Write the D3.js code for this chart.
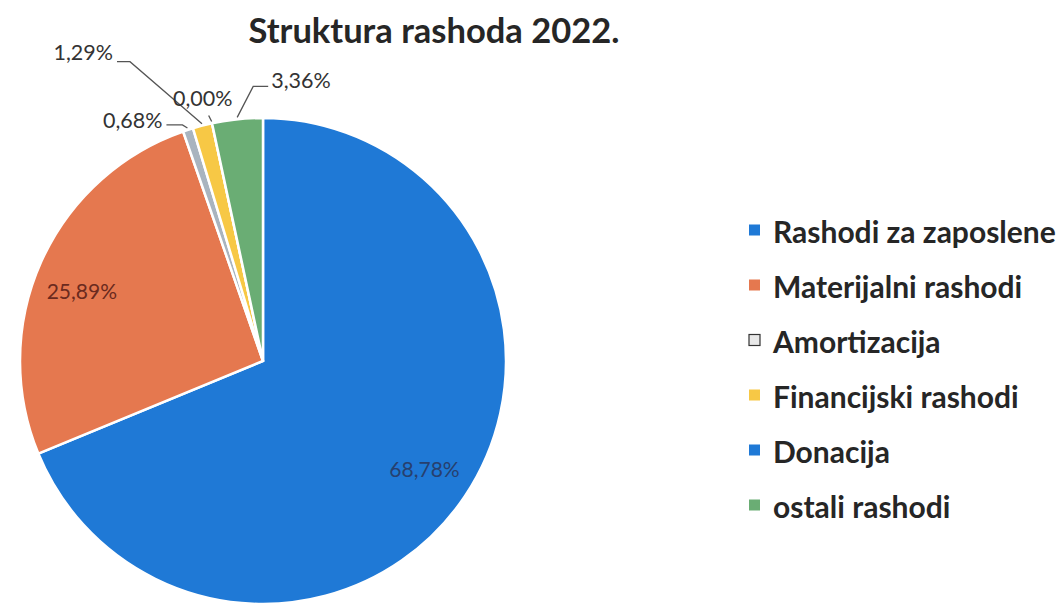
<!DOCTYPE html>
<html>
<head>
<meta charset="utf-8">
<script src="https://cdn.jsdelivr.net/npm/d3@7"></script>
<style>
  body { margin: 0; background: #fff; }
  svg { display: block; font-family: Lato, "Open Sans", sans-serif; }
</style>
</head>
<body>
<svg id="chart" width="1062" height="606"></svg>
<script>
// chart data
const categories = ["Rashodi za zaposlene", "Materijalni rashodi", "Amortizacija", "Financijski rashodi", "Donacija", "ostali rashodi"];
const shares = [68.78, 25.89, 0.68, 1.29, 0.00, 3.36];
const sliceColors = ["#1f79d6", "#e5784f", "#a9b4bf", "#f7c845", "#1f79d6", "#6aad74"];

const width = 1062;
const height = 606;
const cx = 263, cy = 361, radius = 243;

const svg = d3.select("#chart");

// title
svg.append("text")
  .attr("x", 434)
  .attr("y", 43)
  .attr("text-anchor", "middle")
  .attr("font-size", 34.5)
  .attr("font-weight", 700)
  .attr("fill", "#262626")
  .text("Struktura rashoda 2022.");

const data = categories.map((c, i) => ({ name: c, value: shares[i], color: sliceColors[i] }));

const pie = d3.pie().value(d => d.value).sort(null);
const arcs = pie(data);
const arc = d3.arc().innerRadius(0).outerRadius(radius);

const g = svg.append("g").attr("transform", `translate(${cx},${cy})`);

g.selectAll("path")
  .data(arcs)
  .join("path")
  .attr("d", arc)
  .attr("fill", d => d.data.color)
  .attr("stroke", "#fff")
  .attr("stroke-width", 2.5);

// labels inside the two big slices
const insideLabel = {
  0: { k: 0.8, fill: "#27406e", dx: 0, dy: 3 },
  1: { k: 0.84, fill: "#6a2a1e", dx: 5, dy: 16 }
};
const fmt = v => v.toFixed(2).replace(".", ",") + "%";

arcs.forEach((a, i) => {
  const lab = insideLabel[i];
  if (!lab) return;
  const r = radius * lab.k;
  const inner = d3.arc().innerRadius(r).outerRadius(r);
  const [x, y] = inner.centroid(a);
  g.append("text")
    .attr("x", x + lab.dx)
    .attr("y", y + lab.dy)
    .attr("text-anchor", "middle")
    .attr("dominant-baseline", "middle")
    .attr("font-size", 21)
    .attr("fill", lab.fill)
    .text(fmt(a.data.value));
});

// outside labels for the small slices: elbow offset + text side
const outside = {
  2: { elbow: [-5, -3], end: [-21, -3], anchor: "end", tdx: -4, tdy: -2 },
  3: { elbow: [-72, -62], end: [-85, -62], anchor: "end", tdx: -4, tdy: -7 },
  4: { elbow: [-3, -6], end: [-3, -6], anchor: "middle", tdx: -6, tdy: -15 },
  5: { elbow: [16, -31], end: [31, -31], anchor: "start", tdx: 3, tdy: -4 }
};

arcs.forEach((a, i) => {
  const o = outside[i];
  if (!o) return;
  const mid = (a.startAngle + a.endAngle) / 2;
  const px = Math.sin(mid) * (radius + 2);
  const py = -Math.cos(mid) * (radius + 2);
  const pts = [[px, py], [px + o.elbow[0], py + o.elbow[1]], [px + o.end[0], py + o.end[1]]];
  g.append("path")
    .attr("d", d3.line()(pts))
    .attr("fill", "none")
    .attr("stroke", "#555")
    .attr("stroke-width", 1.3);
  g.append("text")
    .attr("x", px + o.end[0] + o.tdx)
    .attr("y", py + o.end[1] + o.tdy)
    .attr("text-anchor", o.anchor)
    .attr("dominant-baseline", "middle")
    .attr("font-size", 21.5)
    .attr("fill", "#333")
    .text(fmt(a.data.value));
});

// legend
const legend = svg.append("g").attr("transform", "translate(749,230)");
const rowGap = 55;

const item = legend.selectAll("g")
  .data(data)
  .join("g")
  .attr("transform", (d, i) => `translate(0,${i * rowGap})`);

item.append("rect")
  .attr("x", 0)
  .attr("y", -5.5)
  .attr("width", 11)
  .attr("height", 11)
  .attr("fill", (d, i) => i === 2 ? "#e8e8e8" : d.color)
  .attr("stroke", (d, i) => i === 2 ? "#333" : "none")
  .attr("stroke-width", 1.2);

item.append("text")
  .attr("x", 24)
  .attr("y", 1)
  .attr("dominant-baseline", "central")
  .attr("font-size", 30)
  .attr("font-weight", 700)
  .attr("fill", "#262626")
  .text(d => d.name);
</script>
</body>
</html>
